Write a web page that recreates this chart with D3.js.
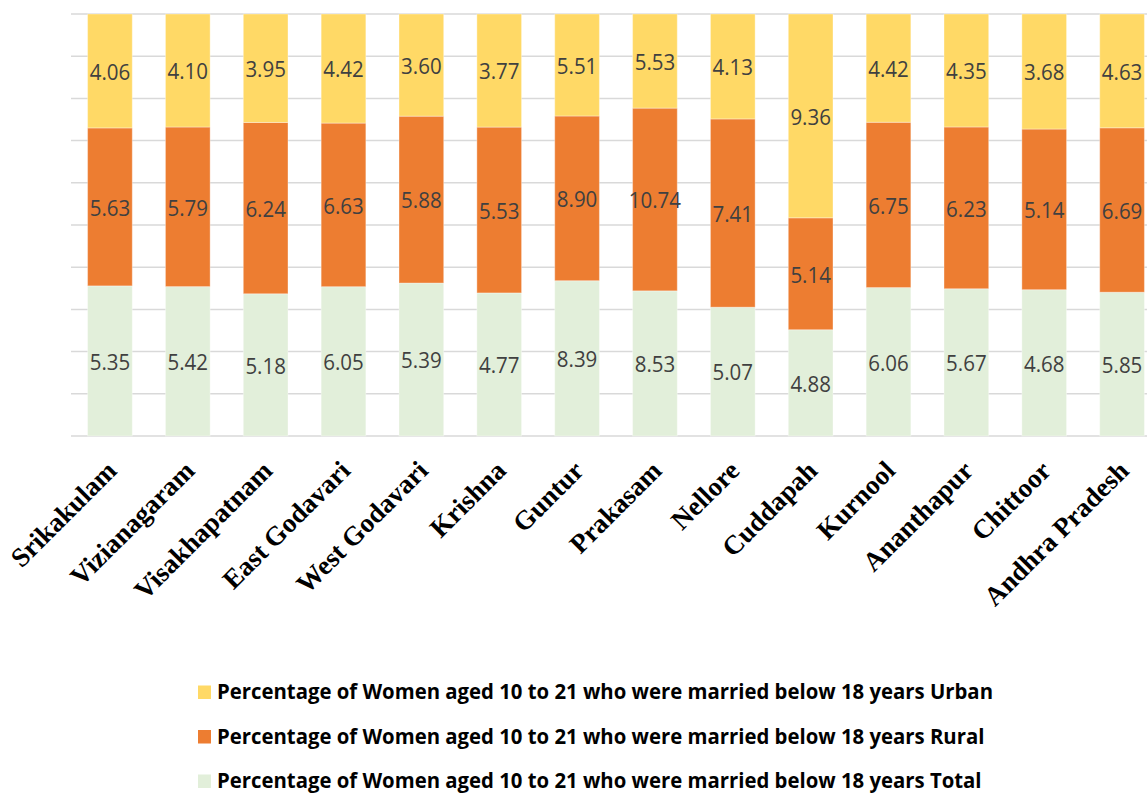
<!DOCTYPE html>
<html>
<head>
<meta charset="utf-8">
<script src="https://cdn.jsdelivr.net/npm/d3@7"></script>
<style>
  html, body { margin: 0; padding: 0; background: #fff; }
  svg { display: block; }
</style>
</head>
<body>
<svg id="chart" width="1147" height="794"></svg>
<script>
// District-wise share of women aged 10–21 married below 18 years (100% stacked)
const districts = ["Srikakulam", "Vizianagaram", "Visakhapatnam", "East Godavari", "West Godavari",
  "Krishna", "Guntur", "Prakasam", "Nellore", "Cuddapah", "Kurnool", "Ananthapur", "Chittoor", "Andhra Pradesh"];
const urban = [4.06, 4.10, 3.95, 4.42, 3.60, 3.77, 5.51, 5.53, 4.13, 9.36, 4.42, 4.35, 3.68, 4.63];
const rural = [5.63, 5.79, 6.24, 6.63, 5.88, 5.53, 8.90, 10.74, 7.41, 5.14, 6.75, 6.23, 5.14, 6.69];
const total = [5.35, 5.42, 5.18, 6.05, 5.39, 4.77, 8.39, 8.53, 5.07, 4.88, 6.06, 5.67, 4.68, 5.85];

const seriesNames = [
  "Percentage of Women aged 10 to 21 who were married below 18 years Urban",
  "Percentage of Women aged 10 to 21 who were married below 18 years Rural",
  "Percentage of Women aged 10 to 21 who were married below 18 years Total"
];
const gridTicks = [0, 0.1, 0.2, 0.3, 0.4, 0.5, 0.6, 0.7, 0.8, 0.9, 1];

const colors = { total: "#E2EFDA", rural: "#ED7D31", urban: "#FFD966" };

const rows = districts.map((d, i) => ({ name: d, total: total[i], rural: rural[i], urban: urban[i] }));

const svg = d3.select("#chart");
const plot = { left: 71, right: 1161, top: 14, bottom: 436 };

const x = d3.scaleBand().domain(districts).range([plot.left, plot.right])
  .paddingInner(0.426).paddingOuter(0.213);
const y = d3.scaleLinear().domain([0, 1]).range([plot.bottom, plot.top]);

// gridlines
svg.append("g").selectAll("line").data(gridTicks).join("line")
  .attr("x1", plot.left).attr("x2", 1147)
  .attr("y1", d => y(d)).attr("y2", d => y(d))
  .attr("stroke", "#d9d9d9").attr("stroke-width", 1.5);

const stack = d3.stack().keys(["total", "rural", "urban"]).offset(d3.stackOffsetExpand);
const layers = stack(rows);

const g = svg.append("g");
layers.forEach(layer => {
  g.append("g").selectAll("rect").data(layer).join("rect")
    .attr("x", d => x(d.data.name))
    .attr("width", x.bandwidth())
    .attr("y", d => y(d[1]))
    .attr("height", d => y(d[0]) - y(d[1]))
    .attr("fill", colors[layer.key])
    .attr("stroke", "#ffffff").attr("stroke-opacity", 0.35).attr("stroke-width", 1);
});

// value labels centred in each segment
layers.forEach(layer => {
  g.append("g").selectAll("text").data(layer).join("text")
    .attr("transform", d => `translate(${x(d.data.name) + x.bandwidth() / 2},${(y(d[0]) + y(d[1])) / 2}) scale(1,1.1)`)
    .attr("text-anchor", "middle")
    .attr("dominant-baseline", "central")
    .attr("font-family", "'Open Sans', sans-serif")
    .attr("font-size", 20.5)
    .attr("fill", "#404040")
    .text(d => d.data[layer.key].toFixed(2));
});

// category labels, rotated
svg.append("g").selectAll("text").data(districts).join("text")
  .attr("transform", d => `translate(${x(d) + x.bandwidth() / 2 - 7},457) rotate(-45)`)
  .attr("text-anchor", "end")
  .attr("dy", "0.8em")
  .attr("font-family", "'Liberation Serif', 'Times New Roman', serif")
  .attr("font-weight", "bold")
  .attr("font-size", 27)
  .attr("fill", "#000")
  .text(d => d);

// legend
const legendKeys = ["urban", "rural", "total"];
const legend = svg.append("g");
const legendRows = legend.selectAll("g").data(legendKeys).join("g")
  .attr("transform", (d, i) => `translate(198,${699 + i * 44.5})`);
legendRows.append("rect")
  .attr("x", 0).attr("y", -13.5).attr("width", 13).attr("height", 13.5)
  .attr("fill", d => colors[d]);
const legendText = legendRows.append("text")
  .attr("x", 19).attr("y", 0)
  .attr("font-family", "'Open Sans', sans-serif")
  .attr("font-weight", "bold")
  .attr("font-size", 21)
  .attr("fill", "#000")
  .text((d, i) => seriesNames[i]);
// condense the legend type to a narrow face
const firstWidth = legendText.node().getComputedTextLength();
const squeeze = 776 / firstWidth;
legendText.each(function () {
  const w = this.getComputedTextLength();
  d3.select(this).attr("textLength", w * squeeze).attr("lengthAdjust", "spacingAndGlyphs");
});
</script>
</body>
</html>
